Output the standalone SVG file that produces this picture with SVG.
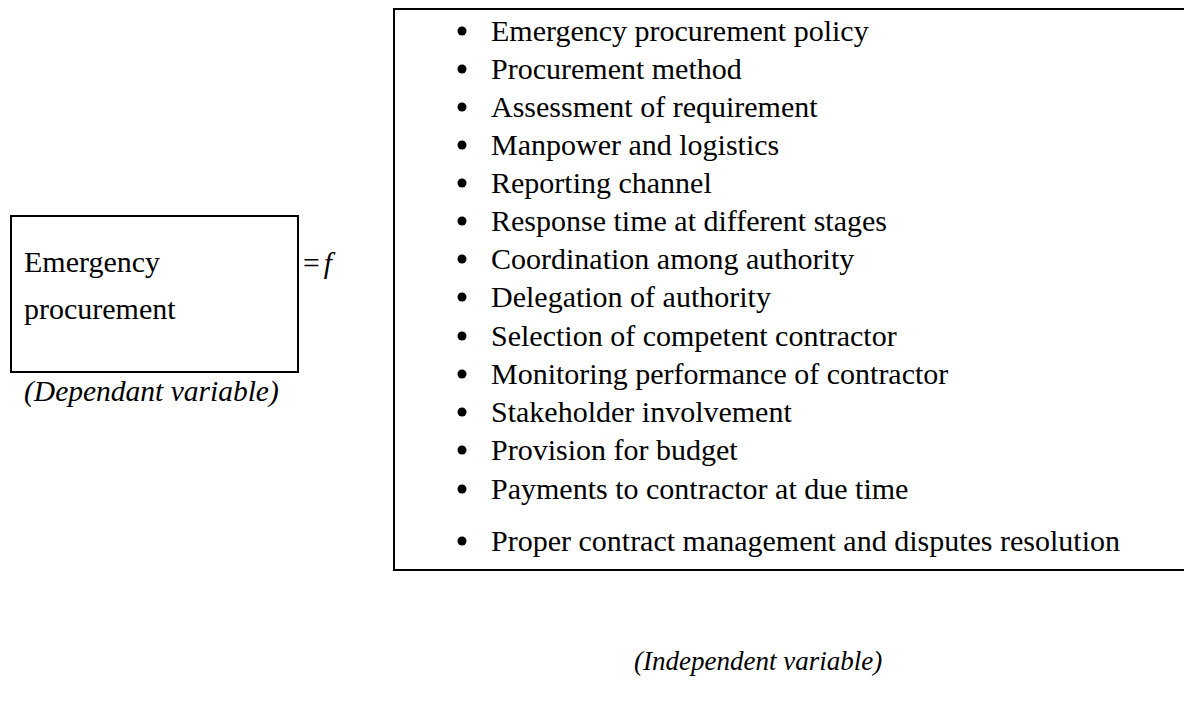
<svg xmlns="http://www.w3.org/2000/svg" width="1184" height="702" viewBox="0 0 1184 702">
<style>
.t{font-family:"Liberation Serif","Times New Roman",serif;font-size:30px;fill:#000}
.i{font-family:"Liberation Serif","Times New Roman",serif;font-size:29.5px;font-style:italic;fill:#000}
.box{fill:none;stroke:#000;stroke-width:2}
</style>
<rect width="1184" height="702" fill="#fff"/>
<g id="dependent">
<rect class="box" x="11" y="216" width="287" height="156"/>
<text class="t" x="24" y="272">Emergency</text>
<text class="t" x="24" y="319">procurement</text>
<text class="i" x="24" y="401">(Dependant variable)</text>
</g>
<g id="equals">
<text class="i" x="303" y="273"><tspan font-style="normal">=</tspan><tspan dx="4">f</tspan></text>
</g>
<g id="independent">
<path class="box" d="M1184 9 H394 V570 H1184"/>
<circle cx="462" cy="31" r="4.5"/><text class="t" x="491" y="41">Emergency procurement policy</text>
<circle cx="462" cy="69" r="4.5"/><text class="t" x="491" y="79">Procurement method</text>
<circle cx="462" cy="107" r="4.5"/><text class="t" x="491" y="117">Assessment of requirement</text>
<circle cx="462" cy="145" r="4.5"/><text class="t" x="491" y="155">Manpower and logistics</text>
<circle cx="462" cy="183" r="4.5"/><text class="t" x="491" y="193">Reporting channel</text>
<circle cx="462" cy="221" r="4.5"/><text class="t" x="491" y="231">Response time at different stages</text>
<circle cx="462" cy="259" r="4.5"/><text class="t" x="491" y="269">Coordination among authority</text>
<circle cx="462" cy="297" r="4.5"/><text class="t" x="491" y="307">Delegation of authority</text>
<circle cx="462" cy="336" r="4.5"/><text class="t" x="491" y="346">Selection of competent contractor</text>
<circle cx="462" cy="374" r="4.5"/><text class="t" x="491" y="384">Monitoring performance of contractor</text>
<circle cx="462" cy="412" r="4.5"/><text class="t" x="491" y="422">Stakeholder involvement</text>
<circle cx="462" cy="450" r="4.5"/><text class="t" x="491" y="460">Provision for budget</text>
<circle cx="462" cy="489" r="4.5"/><text class="t" x="491" y="499">Payments to contractor at due time</text>
<circle cx="462" cy="541" r="4.5"/><text class="t" x="491" y="551">Proper contract management and disputes resolution</text>
<text class="i" x="634" y="670" style="font-size:27px">(Independent variable)</text>
</g>
</svg>
